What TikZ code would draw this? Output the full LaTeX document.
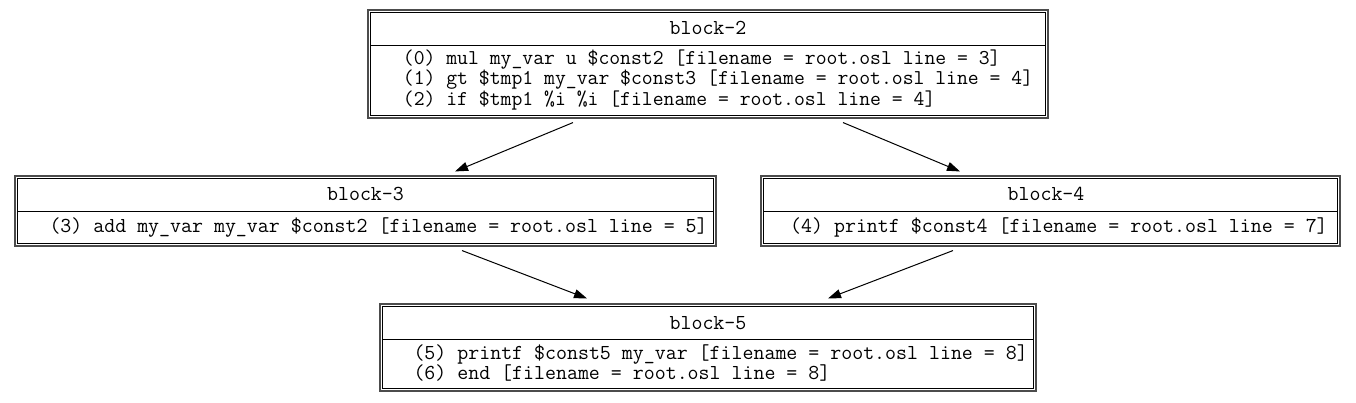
\documentclass[tikz,border=0pt]{standalone}
\usepackage{fontspec}
\usetikzlibrary{arrows.meta,calc}
\begin{document}
\begin{tikzpicture}[x=1pt,y=-1pt,
  outerbox/.style={draw=black!70, line width=1.1pt, inner sep=0pt},
  innerline/.style={line width=1.8pt},
  title/.style={font=\fontsize{21.3}{18}\selectfont\ttfamily, inner sep=0pt},
  body/.style={font=\fontsize{21.3}{18}\selectfont\ttfamily, align=left, anchor=west, inner sep=0pt},
  bodytwo/.style={body, font=\fontsize{21.1}{18}\selectfont\ttfamily},
  arr/.style={line width=1pt, -{Triangle[length=13pt,width=9pt]}}]

\useasboundingbox (0,0) rectangle (1356,403);

% block-2
\node[outerbox, minimum width=680pt, minimum height=108pt] (b2) at (708,64) {};
\draw[innerline] ($(b2.north west)+(3,3)$) rectangle ($(b2.south east)+(-3,-3)$);
\draw[innerline] ($(b2.north west)+(3,36)$) -- ($(b2.north east)+(-3,36)$);
\node[title] (t2) at (708,28) {block-2};
\node[bodytwo] (c2) at (402.7,80) {(0) mul my\_var u \$const2 [filename = root.osl line = 3]\\(1) gt \$tmp1 my\_var \$const3 [filename = root.osl line = 4]\\(2) if \$tmp1 \%i \%i [filename = root.osl line = 4]};

% block-3
\node[outerbox, minimum width=701pt, minimum height=70pt] (b3) at (365.5,211) {};
\draw[innerline] ($(b3.north west)+(3,3)$) rectangle ($(b3.south east)+(-3,-3)$);
\draw[innerline] ($(b3.north west)+(3,36)$) -- ($(b3.north east)+(-3,36)$);
\node[title] (t3) at (365.5,194) {block-3};
\node[body] (c3) at (49.3,227.5) {(3) add my\_var my\_var \$const2 [filename = root.osl line = 5]};

% block-4
\node[outerbox, minimum width=579pt, minimum height=70pt] (b4) at (1050.5,211) {};
\draw[innerline] ($(b4.north west)+(3,3)$) rectangle ($(b4.south east)+(-3,-3)$);
\draw[innerline] ($(b4.north west)+(3,36)$) -- ($(b4.north east)+(-3,36)$);
\node[title] (t4) at (1046,194) {block-4};
\node[body] (c4) at (790,227.5) {(4) printf \$const4 [filename = root.osl line = 7]};

% block-5
\node[outerbox, minimum width=656pt, minimum height=87pt] (b5) at (708,347.5) {};
\draw[innerline] ($(b5.north west)+(3,3)$) rectangle ($(b5.south east)+(-3,-3)$);
\draw[innerline] ($(b5.north west)+(3,36)$) -- ($(b5.north east)+(-3,36)$);
\node[title] (t5) at (708,323) {block-5};
\node[body] (c5) at (413.3,363) {(5) printf \$const5 my\_var [filename = root.osl line = 8]\\(6) end [filename = root.osl line = 8]};

% edges
\draw[arr] ($(b2.south)+(-135,4)$) -- ($(b3.north)+(89.5,-4)$);
\draw[arr] ($(b2.south)+(135,4)$) -- ($(b4.north)+(-90.5,-4)$);
\draw[arr] ($(b3.south)+(96.5,4)$) -- ($(b5.north)+(-121,-5)$);
\draw[arr] ($(b4.south)+(-97.5,4)$) -- ($(b5.north)+(120,-5)$);
\end{tikzpicture}
\end{document}
